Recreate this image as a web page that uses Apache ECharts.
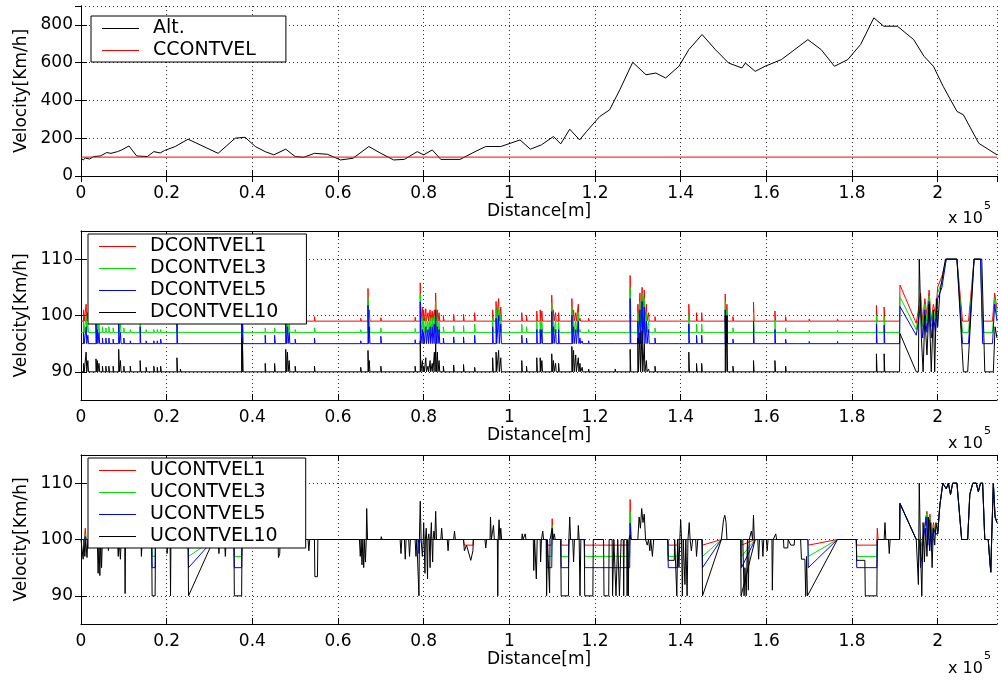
<!DOCTYPE html>
<html>
<head>
<meta charset="utf-8">
<script src="https://cdn.jsdelivr.net/npm/echarts@6/dist/echarts.min.js"></script>
<style>
  html, body { margin: 0; padding: 0; background: #fff; }
  #chart { width: 1001px; height: 680px; }
</style>
</head>
<body>
<div id="chart"></div>
<script>
// distance is in units of 1e5 m (axis shows "x 10^5")
const xMax = 2.1385
const velTicks = [90, 100, 110]

// top panel
const altitude = [[0, 94], [0.005, 85], [0.01, 95], [0.02, 90], [0.03, 103], [0.045, 106], [0.06, 124], [0.07, 120],
  [0.085, 129], [0.095, 138], [0.112, 159], [0.13, 106], [0.155, 103], [0.17, 129], [0.185, 122], [0.195, 135],
  [0.22, 156], [0.25, 195], [0.32, 120], [0.36, 200], [0.383, 205], [0.407, 156], [0.43, 129], [0.45, 112],
  [0.478, 142], [0.5, 103], [0.52, 99], [0.545, 120], [0.575, 115], [0.606, 85], [0.635, 94], [0.672, 156],
  [0.7, 120], [0.73, 85], [0.755, 88], [0.785, 129], [0.8, 112], [0.82, 138], [0.84, 88], [0.885, 88],
  [0.92, 129], [0.945, 156], [0.98, 156], [1.025, 191], [1.049, 142], [1.075, 165], [1.103, 209], [1.12, 170],
  [1.141, 248], [1.164, 191], [1.18, 235], [1.211, 315], [1.234, 350], [1.258, 457], [1.288, 602], [1.319, 536],
  [1.342, 545], [1.365, 519], [1.396, 581], [1.419, 669], [1.45, 749], [1.481, 669], [1.512, 598], [1.543, 572],
  [1.551, 598], [1.574, 554], [1.597, 581], [1.635, 616], [1.697, 722], [1.728, 669], [1.759, 581], [1.79, 616],
  [1.82, 696], [1.851, 837], [1.874, 793], [1.906, 793], [1.944, 722], [1.968, 634], [1.99, 581], [2.013, 474],
  [2.045, 342], [2.06, 324], [2.096, 173], [2.1385, 112]]
const ccontvel = [[0, 100], [xMax, 100]]

// middle panel: spikes above each series' base level
const dBase = [99, 97, 95, 90]
const dSpikeX = [0.006, 0.012, 0.016, 0.035, 0.038, 0.042, 0.05, 0.058, 0.065, 0.075, 0.088, 0.092, 0.1, 0.115,
  0.138, 0.152, 0.17, 0.178, 0.186, 0.224, 0.232, 0.375, 0.377, 0.43, 0.452, 0.478, 0.482, 0.486, 0.5, 0.545,
  0.653, 0.67, 0.673, 0.7, 0.78, 0.792, 0.797, 0.8, 0.805, 0.81, 0.815, 0.82, 0.825, 0.828, 0.832, 0.836,
  0.846, 0.87, 0.893, 0.919, 0.961, 0.969, 0.975, 0.98, 1.029, 1.04, 1.064, 1.072, 1.076, 1.099, 1.103, 1.108,
  1.115, 1.146, 1.15, 1.155, 1.161, 1.165, 1.17, 1.185, 1.247, 1.282, 1.3, 1.305, 1.31, 1.315, 1.32, 1.325,
  1.34, 1.398, 1.419, 1.437, 1.449, 1.504, 1.508, 1.522, 1.57, 1.62, 1.645, 1.7, 1.766, 1.857, 1.875]
const dPeak1 = [101, 102, 100.5, 100, 100, 100, 100, 99.8, 100, 99.8, 100.5, 100, 99.8, 99.5,
  100.5, 99.5, 99.5, 99.5, 99.5, 100.5, 99.3, 101, 101, 99.5, 99.5, 101, 100.5, 100, 99.5, 99.8,
  99.5, 104.8, 101, 99.6, 99.7, 105.8, 101.5, 101, 101.2, 100.5, 101, 100.8, 101, 104, 101, 100.5,
  100, 100.2, 100.2, 100.5, 101, 102.5, 103, 101.5, 100.5, 100, 100.8, 101, 100.8, 103.6, 101, 100.5,
  100.5, 103, 101, 100.5, 102, 99.5, 99.2, 99.5, 99, 107.1, 102, 104, 105, 104.5, 102, 100.5,
  99.8, 99.2, 102, 100.5, 100.5, 103.8, 102, 99.8, 102.4, 100.8, 99.8, 99.4, 99.4, 101.8, 101.5]
const dPeak3 = [99, 100, 98.5, 99, 98.5, 98.5, 98, 97.8, 98, 97.8, 99.5, 98.5, 97.8, 97.5,
  99, 97.5, 97.5, 97.5, 97.5, 99.5, 97.3, 100, 99.5, 97.8, 97.8, 99.5, 99, 98.5, 97.5, 97.8,
  97.5, 103.3, 99.5, 97.8, 97.7, 103.9, 99.5, 99, 99.8, 99, 99.5, 99.5, 100, 102.5, 99.5, 99,
  98, 98.2, 98.2, 98.5, 99.5, 101, 101.5, 100, 98.5, 98, 99, 99, 99, 102.2, 99.5, 99,
  99, 101.5, 99.5, 99, 100.5, 97.5, 97.2, 97.5, 97, 105, 100.5, 102.5, 104, 103, 100.5, 99,
  97.8, 97.2, 100, 98.5, 98.5, 102.5, 101, 97.8, 100.5, 99.2, 97.8, 97.4, 97.4, 100, 99.8]
const dPeak5 = [97, 98, 96.5, 98.5, 97.5, 97, 96, 96, 96, 95.8, 98.5, 97, 96, 95.5,
  98, 95.5, 95.5, 95.5, 95.8, 98.5, 95.3, 99, 98.5, 96.5, 96.5, 98.5, 98, 97, 95.8, 96,
  95.5, 101.8, 98, 96.3, 95.7, 102.4, 97.5, 97, 98, 97.5, 98, 98, 98.5, 101, 98, 97.5,
  96, 96.2, 96.2, 96.5, 98, 99.5, 100, 98.5, 96.5, 96, 97.5, 97.5, 97.5, 100.7, 98, 97.5,
  97.5, 100, 98, 97.5, 99, 96, 95.5, 95.5, 95, 103, 99, 101, 102.5, 101.5, 99, 97.5,
  96, 95.2, 98.5, 96.5, 96.5, 101, 100, 95.8, 99, 97.5, 95.8, 95.4, 95.4, 98.5, 98.3]
const dPeak10 = [91.5, 93.5, 92, 92.3, 92, 91.5, 91, 91, 91, 91, 94, 92, 91, 91,
  92, 90.8, 91, 90.8, 91, 92.5, 90.5, 96, 95.5, 91.5, 91.5, 94, 93.5, 92, 91, 91,
  90.8, 93.8, 92, 91, 91, 95.5, 92, 91, 92.5, 91, 92, 91.5, 93.5, 95, 93.5, 92,
  91, 91.2, 91.3, 90.8, 92.5, 93.5, 93.8, 92.5, 92, 91, 92.5, 92.5, 92, 93.2, 92, 91.5,
  91.5, 94.5, 93.8, 93, 92.5, 91.5, 90.8, 90.5, 90.5, 94, 96, 97, 97.3, 95, 92, 90.5,
  91, 90.3, 93.5, 91.5, 91.5, 100, 100, 91, 92, 92, 91, 90.3, 90.3, 93.2, 93.2]
const d1Tail = [[1.911, 99], [1.912, 105.4], [1.95, 98.6], [1.955, 101], [1.96, 104], [1.965, 99], [1.97, 103],
  [1.975, 100], [1.98, 104.5], [1.985, 99], [1.99, 102], [1.995, 100], [2.0, 105], [2.01, 107], [2.02, 110],
  [2.045, 110], [2.058, 99], [2.072, 99], [2.085, 110], [2.1, 110], [2.105, 99], [2.128, 99], [2.133, 104], [2.1385, 101]]
const d3Tail = [[1.911, 97], [1.912, 103.3], [1.95, 97.5], [1.955, 100], [1.96, 103], [1.965, 98], [1.97, 102],
  [1.975, 99], [1.98, 103.5], [1.985, 98], [1.99, 101], [1.995, 99], [2.0, 104], [2.01, 106], [2.02, 110],
  [2.045, 110], [2.058, 97], [2.072, 97], [2.085, 110], [2.1, 110], [2.105, 97], [2.128, 97], [2.133, 103], [2.1385, 100]]
const d5Tail = [[1.911, 95], [1.912, 101.6], [1.95, 96.5], [1.955, 99], [1.96, 102], [1.965, 96], [1.97, 101],
  [1.975, 97], [1.98, 102.5], [1.985, 96], [1.99, 100], [1.995, 97], [2.0, 103], [2.01, 105], [2.02, 110],
  [2.045, 110], [2.058, 95], [2.072, 95], [2.085, 110], [2.1, 110], [2.105, 95], [2.128, 95], [2.133, 102], [2.1385, 99]]
const d10Tail = [[1.911, 90], [1.912, 96.8], [1.95, 90], [1.955, 90], [1.957, 110], [1.962, 96], [1.966, 90],
  [1.97, 100], [1.975, 93], [1.98, 102], [1.985, 90], [1.99, 101], [1.993, 90], [1.997, 103], [2.0, 98],
  [2.005, 104], [2.018, 110], [2.045, 110], [2.06, 90], [2.07, 90], [2.085, 110], [2.103, 110], [2.11, 90],
  [2.13, 90], [2.134, 98], [2.1385, 96]]

// bottom panel
const u1Main = [[0, 100], [0.008, 100], [0.01, 102], [0.012, 100], [0.165, 100], [0.166, 99], [0.173, 99], [0.174, 100],
  [0.25, 100], [0.251, 99], [0.31, 100], [0.357, 100], [0.358, 99], [0.375, 99], [0.376, 100],
  [0.893, 100], [0.895, 99], [0.915, 99], [0.916, 100], [1.087, 100], [1.088, 99], [1.099, 99], [1.1, 103.7], [1.102, 100],
  [1.12, 100], [1.121, 99], [1.138, 99], [1.139, 100], [1.175, 100], [1.176, 99], [1.281, 99], [1.282, 107.1], [1.284, 100],
  [1.37, 100], [1.371, 99], [1.392, 99], [1.393, 100], [1.45, 100], [1.451, 99], [1.495, 100],
  [1.541, 100], [1.542, 99], [1.574, 100], [1.697, 100], [1.698, 99], [1.766, 100],
  [1.81, 100], [1.811, 99], [1.858, 99], [1.859, 102], [1.861, 100], [1.905, 100]]
const u3Main = [[0, 100], [0.008, 100], [0.01, 101], [0.012, 100], [0.165, 100], [0.166, 97], [0.173, 97], [0.174, 100],
  [0.25, 100], [0.251, 97], [0.31, 100], [0.357, 100], [0.358, 97], [0.375, 97], [0.376, 100],
  [0.788, 100], [0.789, 97.8], [0.791, 100], [1.087, 100], [1.088, 97], [1.099, 97], [1.1, 102.5], [1.102, 100],
  [1.12, 100], [1.121, 97], [1.138, 97], [1.139, 100], [1.175, 100], [1.176, 97], [1.281, 97], [1.282, 104.9], [1.284, 100],
  [1.37, 100], [1.371, 97], [1.392, 97], [1.393, 100], [1.45, 100], [1.451, 97], [1.495, 100],
  [1.541, 100], [1.542, 97], [1.574, 100], [1.697, 100], [1.698, 97], [1.766, 100],
  [1.81, 100], [1.811, 97], [1.858, 97], [1.859, 100], [1.905, 100]]
const u5Main = [[0, 100], [0.008, 100], [0.01, 100.5], [0.012, 100], [0.165, 100], [0.166, 95], [0.173, 95], [0.174, 100],
  [0.25, 100], [0.251, 95], [0.31, 100], [0.357, 100], [0.358, 95], [0.375, 95], [0.376, 100],
  [0.788, 100], [0.789, 97.5], [0.791, 100], [1.087, 100], [1.088, 95], [1.099, 95], [1.1, 101.5], [1.102, 100],
  [1.12, 100], [1.121, 95], [1.138, 95], [1.139, 100], [1.175, 100], [1.176, 95], [1.281, 95], [1.282, 102.9], [1.284, 100],
  [1.37, 100], [1.371, 95], [1.392, 95], [1.393, 100], [1.45, 100], [1.451, 95], [1.495, 100],
  [1.541, 100], [1.542, 95], [1.574, 100], [1.697, 100], [1.698, 95], [1.766, 100],
  [1.81, 100], [1.811, 95], [1.858, 95], [1.859, 100], [1.905, 100]]
const u10Main = [[0, 100], [0.004, 100], [0.005, 96.5], [0.007, 100], [0.009, 97], [0.011, 100], [0.014, 96.8], [0.016, 100],
  [0.038, 100], [0.04, 94], [0.042, 100], [0.044, 93.6], [0.046, 100], [0.048, 95], [0.05, 100],
  [0.062, 100], [0.064, 98], [0.066, 100], [0.085, 100], [0.087, 97], [0.089, 100], [0.092, 96.5], [0.094, 100],
  [0.102, 100], [0.103, 90.4], [0.104, 100], [0.14, 100], [0.141, 97], [0.143, 100],
  [0.165, 100], [0.166, 90], [0.173, 90], [0.174, 100], [0.2, 100], [0.201, 97.5], [0.203, 100],
  [0.208, 100], [0.209, 90], [0.21, 100], [0.25, 100], [0.251, 90], [0.31, 100],
  [0.32, 100], [0.322, 97.5], [0.324, 100], [0.335, 100], [0.337, 97], [0.339, 100],
  [0.357, 100], [0.358, 90], [0.375, 90], [0.376, 100], [0.46, 100], [0.461, 96.8], [0.464, 97.5], [0.465, 100],
  [0.52, 100], [0.522, 98.5], [0.524, 100], [0.53, 100], [0.532, 98], [0.534, 100],
  [0.545, 100], [0.546, 93.4], [0.552, 93.4], [0.553, 100],
  [0.65, 100], [0.652, 97], [0.654, 100], [0.656, 95.5], [0.658, 100], [0.66, 95], [0.662, 100], [0.664, 96],
  [0.666, 100], [0.667, 105.5], [0.669, 100], [0.7, 100], [0.701, 100.5], [0.703, 100],
  [0.745, 100], [0.747, 97.5], [0.749, 100], [0.755, 100], [0.757, 96.5], [0.759, 100], [0.765, 100], [0.767, 97], [0.769, 100],
  [0.78, 100], [0.782, 97], [0.784, 100], [0.788, 100], [0.789, 90], [0.79, 100], [0.792, 106.8], [0.794, 100],
  [0.797, 97], [0.799, 100], [0.8, 103], [0.801, 100], [0.803, 94], [0.804, 100], [0.806, 102], [0.807, 100],
  [0.809, 93], [0.81, 100], [0.812, 101], [0.813, 100], [0.815, 95], [0.816, 100], [0.818, 103], [0.819, 100],
  [0.821, 96], [0.822, 100], [0.824, 101.5], [0.826, 100], [0.828, 105], [0.83, 100],
  [0.84, 100], [0.842, 102], [0.844, 100], [0.855, 100], [0.857, 98], [0.859, 100], [0.87, 100], [0.872, 101.5], [0.874, 100],
  [0.893, 100], [0.895, 98], [0.9, 99], [0.91, 96.3], [0.915, 98], [0.916, 100],
  [0.943, 100], [0.945, 98.5], [0.947, 100], [0.955, 100], [0.956, 104], [0.958, 100], [0.962, 100], [0.963, 102.5],
  [0.965, 100], [0.972, 100], [0.973, 90], [0.974, 100], [0.976, 103.5], [0.978, 100], [0.98, 102], [0.982, 100],
  [1.029, 100], [1.03, 101], [1.032, 100], [1.036, 100], [1.037, 101], [1.039, 100],
  [1.056, 100], [1.057, 94.5], [1.059, 100], [1.062, 100], [1.063, 93], [1.065, 100], [1.072, 100], [1.073, 96], [1.075, 100],
  [1.078, 101.5], [1.08, 100], [1.086, 100], [1.087, 90], [1.089, 100], [1.093, 100], [1.094, 90.5], [1.095, 100],
  [1.1, 102], [1.102, 100], [1.105, 101], [1.107, 100],
  [1.12, 100], [1.121, 90], [1.138, 90], [1.139, 100], [1.141, 104], [1.143, 100],
  [1.148, 100], [1.15, 96], [1.152, 100], [1.16, 100], [1.161, 102.5], [1.163, 100], [1.165, 90], [1.167, 100],
  [1.175, 100], [1.176, 90], [1.195, 90], [1.196, 100], [1.22, 100], [1.221, 90], [1.232, 90], [1.233, 100],
  [1.24, 100], [1.241, 90], [1.243, 90], [1.244, 100], [1.248, 100], [1.249, 90], [1.252, 90], [1.253, 100],
  [1.256, 100], [1.257, 90], [1.26, 90], [1.261, 100], [1.266, 100], [1.267, 90], [1.268, 100],
  [1.274, 100], [1.275, 90], [1.276, 100], [1.278, 90], [1.279, 100], [1.282, 100.8], [1.284, 100],
  [1.3, 100], [1.303, 104], [1.306, 102], [1.309, 105.5], [1.312, 103], [1.315, 104.5], [1.318, 100],
  [1.322, 99], [1.325, 100], [1.328, 98], [1.33, 100], [1.334, 97], [1.337, 100],
  [1.37, 100], [1.371, 96.3], [1.385, 96.3], [1.386, 100],
  [1.39, 100], [1.391, 90], [1.393, 100], [1.396, 95], [1.398, 100], [1.4, 103.5], [1.402, 100], [1.404, 90],
  [1.406, 100], [1.41, 92], [1.412, 100], [1.415, 90], [1.417, 100], [1.42, 103], [1.422, 100], [1.425, 98],
  [1.428, 100], [1.435, 100], [1.437, 97], [1.44, 100],
  [1.45, 100], [1.451, 90], [1.495, 100], [1.498, 100], [1.5, 103.5], [1.503, 104.3], [1.506, 103], [1.508, 100],
  [1.54, 100], [1.541, 90], [1.574, 100], [1.545, 100], [1.548, 90], [1.55, 95], [1.553, 90], [1.556, 100],
  [1.558, 91], [1.56, 100], [1.565, 101.5], [1.568, 100], [1.57, 104.3], [1.572, 100],
  [1.58, 100], [1.582, 96.5], [1.584, 100], [1.59, 100], [1.592, 97], [1.594, 100], [1.6, 100], [1.602, 98],
  [1.604, 100], [1.613, 100], [1.614, 91], [1.616, 100], [1.62, 100], [1.622, 101], [1.624, 100],
  [1.64, 100], [1.641, 98.5], [1.65, 98.5], [1.651, 100], [1.655, 100], [1.657, 99], [1.665, 99], [1.666, 100],
  [1.68, 100], [1.682, 96.5], [1.69, 96.5], [1.692, 90], [1.694, 97], [1.696, 90], [1.698, 90], [1.766, 100],
  [1.81, 100], [1.811, 96.3], [1.83, 96.3], [1.831, 90], [1.858, 90], [1.859, 100],
  [1.875, 100], [1.877, 103], [1.879, 100], [1.885, 100], [1.887, 97.5], [1.889, 100], [1.905, 100]]
const uDiag = [[1.911, 100], [1.912, 106.4], [1.95, 100]]
const u1Mix = [[1.957, 100], [1.96, 98], [1.975, 105], [1.978, 101], [1.982, 104.5], [1.986, 100], [1.99, 103], [1.995, 101], [2.0, 101]]
const u3Mix = [[1.957, 100], [1.96, 97], [1.974, 104.5], [1.978, 100], [1.982, 104], [1.986, 99], [1.99, 102.5], [1.995, 101], [2.0, 101]]
const u5Mix = [[1.957, 100], [1.96, 95], [1.973, 104], [1.977, 99], [1.981, 103.5], [1.985, 98], [1.99, 102], [1.995, 101], [2.0, 101]]
const u10Mix = [[1.955, 92], [1.957, 110], [1.96, 98], [1.963, 90], [1.966, 103], [1.969, 96], [1.972, 102], [1.975, 97],
  [1.978, 104], [1.981, 98], [1.984, 103], [1.987, 95], [1.99, 102], [1.993, 99], [1.996, 103], [2.0, 101]]
const uTail = [[2.005, 106], [2.012, 110], [2.02, 109], [2.025, 110], [2.03, 108], [2.035, 110], [2.045, 110],
  [2.056, 100], [2.07, 100], [2.075, 108], [2.082, 110], [2.09, 110], [2.095, 108.5], [2.1, 110], [2.105, 110],
  [2.11, 100], [2.118, 100], [2.122, 96], [2.124, 94.2], [2.126, 100], [2.13, 110], [2.134, 104], [2.1385, 103]]

// build spike lines for the middle panel
function spikeLine (base, peaks, tail) {
  var pts = [[0, base]]
  dSpikeX.forEach(function (x, i) {
    pts.push([x, base], [x, peaks[i]], [x + 0.0015, base])
  })
  return pts.concat(tail)
}

var FONT = 'DejaVu Sans'
var gridTops = [6, 231, 455]
var gridH = [170, 169, 169]

var xAxes = []
var yAxes = []
gridTops.forEach(function (t, i) {
  xAxes.push({
    gridIndex: i, type: 'value', min: 0, max: xMax, interval: 0.2, position: 'bottom',
    name: 'Distance[m]', nameLocation: 'middle', nameGap: 25,
    nameTextStyle: { color: '#000', fontSize: 17, fontFamily: FONT },
    axisLine: { show: true, lineStyle: { color: '#000' } },
    axisTick: { show: true, inside: true, length: 6, lineStyle: { color: '#000' } },
    axisLabel: { color: '#000', fontSize: 17, fontFamily: FONT, margin: 9, showMaxLabel: false,
      formatter: function (v) { return String(+v.toFixed(1)) } },
    splitLine: { show: true, lineStyle: { color: '#333', type: [1, 3], width: 1 } }
  })
  xAxes.push({
    gridIndex: i, type: 'value', min: 0, max: xMax, interval: 0.2, position: 'top',
    axisLine: { show: true, lineStyle: { color: '#000' } },
    axisTick: { show: true, inside: true, length: 6, lineStyle: { color: '#000' } },
    axisLabel: { show: false }, splitLine: { show: false }
  })
  var yBase = i === 0
    ? { min: 0, max: 900, interval: 200 }
    : { min: 85, max: 115 }
  var left = Object.assign({
    gridIndex: i, type: 'value', position: 'left',
    name: 'Velocity[Km/h]', nameLocation: 'middle', nameGap: 48,
    nameTextStyle: { color: '#000', fontSize: 17, fontFamily: FONT },
    axisLine: { show: true, lineStyle: { color: '#000' } },
    axisTick: { show: true, inside: true, length: 6, lineStyle: { color: '#000' } },
    axisLabel: { color: '#000', fontSize: 17, fontFamily: FONT, margin: 8 },
    splitLine: { show: true, lineStyle: { color: '#333', type: [1, 3], width: 1 } }
  }, yBase)
  var right = Object.assign({
    gridIndex: i, type: 'value', position: 'right',
    axisLine: { show: true, lineStyle: { color: '#000' } },
    axisTick: { show: true, inside: true, length: 6, lineStyle: { color: '#000' } },
    axisLabel: { show: false }, splitLine: { show: false }
  }, yBase)
  if (i === 0) {
    left.axisLabel.showMaxLabel = false
  } else {
    left.axisLabel.customValues = velTicks
    left.axisTick.customValues = velTicks
    right.axisTick.customValues = velTicks
  }
  yAxes.push(left, right)
})

function line (name, grid, color, data) {
  return {
    name: name, type: 'line', xAxisIndex: grid * 2, yAxisIndex: grid * 2,
    data: data, symbol: 'none', showSymbol: false, animation: false,
    lineStyle: { color: color, width: 1 }, itemStyle: { color: color }
  }
}

var RED = '#ff0000'
var GREEN = '#00e000'
var BLUE = '#0000ff'
var BLACK = '#000000'

var series = [
  line('Alt.', 0, BLACK, altitude),
  line('CCONTVEL', 0, RED, ccontvel),
  line('DCONTVEL1', 1, RED, spikeLine(dBase[0], dPeak1, d1Tail)),
  line('DCONTVEL3', 1, GREEN, spikeLine(dBase[1], dPeak3, d3Tail)),
  line('DCONTVEL5', 1, BLUE, spikeLine(dBase[2], dPeak5, d5Tail)),
  line('DCONTVEL10', 1, BLACK, spikeLine(dBase[3], dPeak10, d10Tail)),
  line('UCONTVEL1', 2, RED, u1Main.concat(uDiag, u1Mix, uTail)),
  line('UCONTVEL3', 2, GREEN, u3Main.concat(uDiag, u3Mix, uTail)),
  line('UCONTVEL5', 2, BLUE, u5Main.concat(uDiag, u5Mix, uTail)),
  line('UCONTVEL10', 2, BLACK, u10Main.concat(uDiag, u10Mix, uTail))
]

function legend (names, left, top, padRight) {
  return {
    data: names, orient: 'vertical', left: left, top: top,
    icon: 'rect', itemWidth: 37, itemHeight: 1, itemGap: 3,
    padding: [3, padRight, 2, 11],
    backgroundColor: '#fff', borderColor: '#000', borderWidth: 1, borderRadius: 0,
    selectedMode: false,
    textStyle: { color: '#000', fontSize: 19, lineHeight: 19, fontFamily: FONT, padding: [0, 0, 0, 9] }
  }
}

var graphics = []
var expY = [211, 436, 661]
expY.forEach(function (y) {
  graphics.push({ type: 'text', left: 948, top: y, style: { text: 'x 10', fontSize: 16, fontFamily: FONT, fill: '#000' } })
  graphics.push({ type: 'text', left: 984, top: y - 10, style: { text: '5', fontSize: 11, fontFamily: FONT, fill: '#000' } })
})

var chart = echarts.init(document.getElementById('chart'), null, { renderer: 'canvas' })
chart.setOption({
  backgroundColor: '#fff',
  animation: false,
  grid: gridTops.map(function (t, i) {
    return { left: 81, right: 4, top: t, height: gridH[i], containLabel: false }
  }),
  xAxis: xAxes,
  yAxis: yAxes,
  legend: [
    legend(['Alt.', 'CCONTVEL'], 91, 16, 30),
    legend(['DCONTVEL1', 'DCONTVEL3', 'DCONTVEL5', 'DCONTVEL10'], 88, 234, 28),
    legend(['UCONTVEL1', 'UCONTVEL3', 'UCONTVEL5', 'UCONTVEL10'], 88, 458, 28)
  ],
  graphic: graphics,
  series: series
})
</script>
</body>
</html>
